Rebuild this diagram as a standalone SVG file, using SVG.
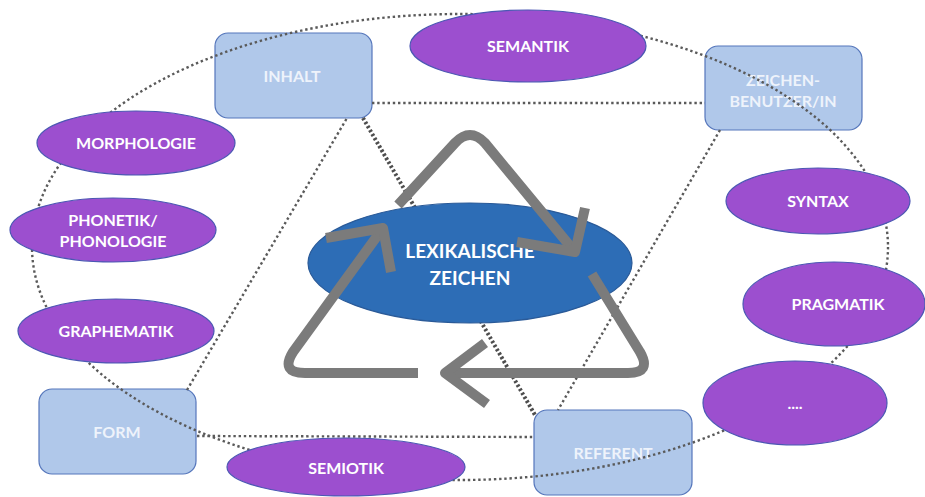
<svg xmlns="http://www.w3.org/2000/svg" width="925" height="497" viewBox="0 0 925 497">
<style>
.box{fill:#a9c3e8;fill-opacity:0.92;stroke:#5576bb;stroke-width:1.2}
.oval{fill:#9c4fcf;stroke:#4b57b3;stroke-width:1.2}
.lbl{font-family:Lato,"Liberation Sans",sans-serif;font-weight:700;font-size:16px;fill:#ffffff;text-anchor:middle}
.blbl{font-family:Lato,"Liberation Sans",sans-serif;font-weight:700;font-size:16px;fill:#eef3fb;text-anchor:middle}
.dot{fill:none;stroke:#5a5a5a;stroke-width:2.4;stroke-dasharray:2.4 2.8}
.dotb{fill:none;stroke:#4d4d4d;stroke-width:4;stroke-dasharray:2.4 2.2}
.cyc{fill:none;stroke:#7b7b7b;stroke-width:10;stroke-linejoin:round}
</style>
<rect width="925" height="497" fill="#ffffff"/>

<g id="node-inhalt"><rect class="box" x="215" y="33" width="157" height="85" rx="13"/><text class="blbl" x="292" y="82">INHALT</text></g>
<g id="node-zeichenbenutzer"><rect class="box" x="705" y="46" width="157" height="84" rx="13"/><text class="blbl" x="783" y="86">ZEICHEN-</text><text class="blbl" x="783" y="107">BENUTZER/IN</text></g>
<g id="node-form"><rect class="box" x="39" y="389" width="157" height="85" rx="13"/><text class="blbl" x="117" y="438">FORM</text></g>
<g id="node-referent"><rect class="box" x="534" y="410" width="158" height="85" rx="13"/><text class="blbl" x="613" y="459">REFERENT</text></g>

<g id="connectors">
<ellipse class="dot" cx="460" cy="247" rx="428" ry="233"/>
<line class="dot" x1="372" y1="103" x2="705" y2="103"/>
<line class="dot" x1="720" y1="130" x2="558" y2="410"/>
<line class="dot" x1="197" y1="436" x2="534" y2="437"/>
<line class="dot" x1="187" y1="390" x2="347" y2="118"/>
<line class="dotb" x1="363" y1="118" x2="535" y2="415"/>
</g>

<g id="node-semantik"><ellipse class="oval" cx="528" cy="46" rx="118" ry="36"/><text class="lbl" x="528" y="52">SEMANTIK</text></g>
<g id="node-morphologie"><ellipse class="oval" cx="136" cy="143" rx="99" ry="32"/><text class="lbl" x="136" y="149">MORPHOLOGIE</text></g>
<g id="node-phonetik"><ellipse class="oval" cx="113" cy="230" rx="103" ry="32"/><text class="lbl" x="113" y="226">PHONETIK/</text><text class="lbl" x="113" y="247">PHONOLOGIE</text></g>
<g id="node-graphematik"><ellipse class="oval" cx="116" cy="331" rx="98" ry="32"/><text class="lbl" x="116" y="337">GRAPHEMATIK</text></g>
<g id="node-semiotik"><ellipse class="oval" cx="346" cy="467" rx="119" ry="29"/><text class="lbl" x="346" y="474">SEMIOTIK</text></g>
<g id="node-syntax"><ellipse class="oval" cx="818" cy="201" rx="92" ry="33"/><text class="lbl" x="818" y="207">SYNTAX</text></g>
<g id="node-pragmatik"><ellipse class="oval" cx="834" cy="304" rx="91" ry="42"/><text class="lbl" x="838" y="310">PRAGMATIK</text></g>
<g id="node-more"><ellipse class="oval" cx="795" cy="403" rx="92" ry="42"/><text class="lbl" x="795" y="409">....</text></g>

<g id="node-lexikalische">
<ellipse cx="470" cy="263" rx="162" ry="60" fill="#2d6db6" stroke="#2a5a98" stroke-width="1.2"/>
<text x="470" y="258" font-family="Lato,'Liberation Sans',sans-serif" font-weight="700" font-size="19" fill="#ffffff" text-anchor="middle">LEXIKALISCHE</text>
<text x="470" y="285" font-family="Lato,'Liberation Sans',sans-serif" font-weight="700" font-size="19" fill="#ffffff" text-anchor="middle">ZEICHEN</text>
</g>

<g id="cycle">
<path class="cyc" d="M418,373 L305,373 Q280,373 293,352 L383,228"/>
<path class="cyc" d="M326,238 L383,228 L391,272"/>
<path class="cyc" d="M398,205 L455,143 Q470,127 485,143 L575,252"/>
<path class="cyc" d="M517,242 L575,252 L585,208"/>
<path class="cyc" d="M592,274 L640,352 Q652,373 628,373 L445,373"/>
<path class="cyc" d="M485,343 L445,373 L487,404"/>
</g>
</svg>
